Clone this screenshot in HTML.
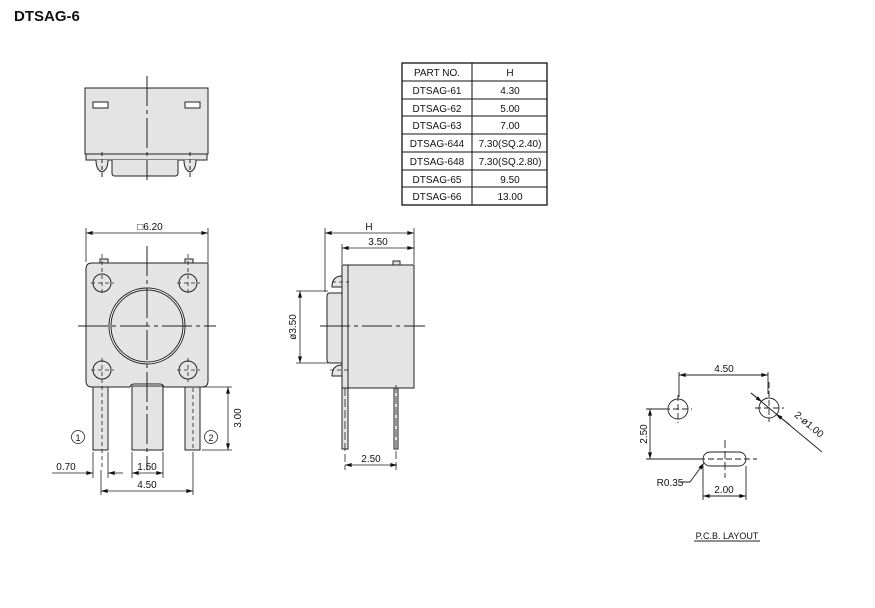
<!DOCTYPE html>
<html><head><meta charset="utf-8"><style>
html,body{margin:0;padding:0;background:#fff}
svg{display:block}
text{font-family:"Liberation Sans",sans-serif;fill:#111}
</style></head><body>
<svg width="875" height="608" viewBox="0 0 875 608" xmlns="http://www.w3.org/2000/svg">
<defs>
<marker id="a" viewBox="0 0 10 6" refX="10" refY="3" markerWidth="7" markerHeight="4" orient="auto-start-reverse" markerUnits="userSpaceOnUse"><path d="M0,0L10,3L0,6z" fill="#111"/></marker>
</defs>
<text x="14" y="21" font-size="15" font-weight="bold">DTSAG-6</text>

<g stroke="#222" stroke-width="1" fill="#e4e4e4">
<rect x="85" y="88" width="123" height="66"/>
<rect x="86" y="154" width="121" height="6"/>
<path d="M112,160 V173 Q112,176 115,176 H175 Q178,176 178,173 V160" />
<path d="M96,160 Q96,170 102,172 Q108,170 108,160"/>
<path d="M184,160 Q184,170 190,172 Q196,170 196,160"/>
<rect x="93" y="102" width="15" height="6" fill="#fff"/>
<rect x="185" y="102" width="15" height="6" fill="#fff"/>
</g>
<line x1="147" y1="76" x2="147" y2="180" stroke="#222" stroke-dasharray="30,4,4,4"/>
<line x1="102" y1="152" x2="102" y2="177" stroke="#222" stroke-dasharray="4,3"/>
<line x1="190" y1="152" x2="190" y2="177" stroke="#222" stroke-dasharray="4,3"/>

<g stroke="#111" fill="none">
<rect x="402" y="63" width="145" height="142" stroke-width="1.3"/>
<line x1="472" y1="63" x2="472" y2="205"/>
<line x1="402" y1="81" x2="547" y2="81"/><line x1="402" y1="99" x2="547" y2="99"/>
<line x1="402" y1="116" x2="547" y2="116"/><line x1="402" y1="134" x2="547" y2="134"/>
<line x1="402" y1="152" x2="547" y2="152"/><line x1="402" y1="170" x2="547" y2="170"/>
<line x1="402" y1="187" x2="547" y2="187"/>
</g>
<g font-size="10" text-anchor="middle">
<text x="437" y="76">PART  NO.</text><text x="510" y="76">H</text>
<text x="437" y="94">DTSAG-61</text><text x="510" y="94">4.30</text>
<text x="437" y="112">DTSAG-62</text><text x="510" y="112">5.00</text>
<text x="437" y="129">DTSAG-63</text><text x="510" y="129">7.00</text>
<text x="437" y="147">DTSAG-644</text><text x="510" y="147">7.30(SQ.2.40)</text>
<text x="437" y="165">DTSAG-648</text><text x="510" y="165">7.30(SQ.2.80)</text>
<text x="437" y="183">DTSAG-65</text><text x="510" y="183">9.50</text>
<text x="437" y="200">DTSAG-66</text><text x="510" y="200">13.00</text>
</g>

<g stroke="#222" fill="#e4e4e4">
<rect x="93" y="386" width="15" height="64"/>
<rect x="132" y="386" width="31" height="64"/>
<rect x="185" y="386" width="15" height="64"/>
<path d="M92,263 H208 V381 Q208,387 202,387 H164 Q163,384 160,384 H134 Q131,384 130,387 H92 Q86,387 86,381 V269 Q86,263 92,263Z"/>
<rect x="100" y="259" width="8" height="4"/><rect x="185" y="259" width="8" height="4"/>
<circle cx="147" cy="326" r="38" fill="#fff"/>
<circle cx="147" cy="326" r="36" fill="#e4e4e4"/>
<circle cx="102" cy="283" r="9"/><circle cx="188" cy="283" r="9"/>
<circle cx="102" cy="370" r="9"/><circle cx="188" cy="370" r="9"/>
</g>
<g stroke="#222" stroke-width="0.8" stroke-dasharray="4,3" fill="none">
<line x1="91" y1="283" x2="114" y2="283"/><line x1="102" y1="254" x2="102" y2="295"/>
<line x1="177" y1="283" x2="200" y2="283"/><line x1="188" y1="254" x2="188" y2="295"/>
<line x1="91" y1="370" x2="114" y2="370"/><line x1="102" y1="358" x2="102" y2="470"/>
<line x1="177" y1="370" x2="200" y2="370"/><line x1="188" y1="358" x2="188" y2="382"/>
<line x1="193" y1="388" x2="193" y2="450"/>
</g>
<line x1="147" y1="246" x2="147" y2="470" stroke="#222" stroke-dasharray="30,4,4,4"/>
<line x1="78" y1="326" x2="216" y2="326" stroke="#222" stroke-dasharray="30,4,4,4"/>
<g stroke="#222" stroke-width="0.8" fill="none">
<line x1="86" y1="228" x2="86" y2="262"/><line x1="208" y1="228" x2="208" y2="262"/>
<line x1="86" y1="233" x2="208" y2="233" marker-start="url(#a)" marker-end="url(#a)"/>
<line x1="202" y1="387" x2="232" y2="387"/><line x1="202" y1="450" x2="232" y2="450"/>
<line x1="228" y1="387" x2="228" y2="450" marker-start="url(#a)" marker-end="url(#a)"/>
<line x1="93" y1="452" x2="93" y2="478"/><line x1="108" y1="452" x2="108" y2="478"/>
<line x1="132" y1="452" x2="132" y2="478"/><line x1="163" y1="452" x2="163" y2="478"/>
<line x1="101" y1="470" x2="101" y2="495"/>
<line x1="193" y1="452" x2="193" y2="495"/>
<line x1="52" y1="473" x2="93" y2="473" marker-end="url(#a)"/>
<line x1="123" y1="473" x2="108" y2="473" marker-end="url(#a)"/>
<line x1="132" y1="473" x2="163" y2="473" marker-start="url(#a)" marker-end="url(#a)"/>
<line x1="101" y1="491" x2="193" y2="491" marker-start="url(#a)" marker-end="url(#a)"/>
<circle cx="78" cy="437" r="6.5"/><circle cx="211" cy="437" r="6.5"/>
</g>
<g font-size="10" text-anchor="middle">
<text x="150" y="230">□6.20</text>
<text x="78" y="441" font-size="9">1</text><text x="211" y="441" font-size="9">2</text>
<text x="66" y="470">0.70</text><text x="147" y="470">1.50</text><text x="147" y="488">4.50</text>
<text transform="translate(241,418) rotate(-90)">3.00</text>
</g>

<g stroke="#222" fill="#e4e4e4">
<rect x="342" y="388" width="6" height="61"/>
<rect x="394" y="388" width="4" height="61"/>
<path d="M342,293 H330 Q327,293 327,296 V360 Q327,363 330,363 H342Z"/>
<path d="M342,276 Q332,276 332,287 H342Z"/><path d="M342,365 Q332,365 332,376 H342Z"/>
<rect x="342" y="265" width="6" height="123"/>
<rect x="348" y="265" width="66" height="123"/>
<rect x="393" y="261" width="7" height="4"/>
</g>
<line x1="320" y1="326" x2="425" y2="326" stroke="#222" stroke-dasharray="30,4,4,4"/>
<g stroke="#222" stroke-width="0.8" fill="none">
<line x1="332" y1="282" x2="349" y2="282" stroke-dasharray="4,3"/>
<line x1="330" y1="370" x2="349" y2="370" stroke-dasharray="4,3"/>
<line x1="345" y1="388" x2="345" y2="470" stroke-dasharray="8,3"/>
<line x1="396" y1="385" x2="396" y2="470" stroke-dasharray="8,3"/>
<line x1="325" y1="228" x2="325" y2="292"/><line x1="414" y1="228" x2="414" y2="264"/>
<line x1="342" y1="244" x2="342" y2="264"/>
<line x1="325" y1="233" x2="414" y2="233" marker-start="url(#a)" marker-end="url(#a)"/>
<line x1="342" y1="248" x2="414" y2="248" marker-start="url(#a)" marker-end="url(#a)"/>
<line x1="296" y1="291" x2="328" y2="291"/><line x1="296" y1="363" x2="328" y2="363"/>
<line x1="300" y1="291" x2="300" y2="363" marker-start="url(#a)" marker-end="url(#a)"/>
<line x1="345" y1="465" x2="397" y2="465" marker-start="url(#a)" marker-end="url(#a)"/>
</g>
<g font-size="10" text-anchor="middle">
<text x="369" y="230">H</text><text x="378" y="245">3.50</text>
<text transform="translate(296,327) rotate(-90)">ø3.50</text>
<text x="371" y="462">2.50</text>
</g>

<g stroke="#222" stroke-width="0.9" fill="none">
<circle cx="678" cy="409" r="10"/><circle cx="769" cy="408" r="10"/>
<rect x="703" y="452" width="43" height="14" rx="7"/>
<line x1="664" y1="409" x2="692" y2="409" stroke-dasharray="6,3"/><line x1="678" y1="395" x2="678" y2="423" stroke-dasharray="6,3"/>
<line x1="755" y1="408" x2="784" y2="408" stroke-dasharray="6,3"/><line x1="769" y1="382" x2="769" y2="422" stroke-dasharray="6,3"/>
<line x1="690" y1="459" x2="757" y2="459" stroke-dasharray="6,3"/>
<line x1="725" y1="440" x2="725" y2="478" stroke-dasharray="8,3"/>
<line x1="679" y1="372" x2="679" y2="397"/><line x1="768" y1="372" x2="768" y2="394"/>
<line x1="679" y1="375" x2="768" y2="375" marker-start="url(#a)" marker-end="url(#a)"/>
<line x1="646" y1="409" x2="666" y2="409"/><line x1="646" y1="459" x2="703" y2="459"/>
<line x1="650" y1="409" x2="650" y2="459" marker-start="url(#a)" marker-end="url(#a)"/>
<line x1="703" y1="466" x2="703" y2="500"/><line x1="746" y1="466" x2="746" y2="500"/>
<line x1="703" y1="496" x2="746" y2="496" marker-start="url(#a)" marker-end="url(#a)"/>
<polyline points="680,482 690,482 704,463" marker-end="url(#a)"/>
<line x1="751" y1="393" x2="822" y2="452"/>
<line x1="751" y1="393" x2="762" y2="402" marker-end="url(#a)"/>
<line x1="790" y1="425" x2="776" y2="414" marker-end="url(#a)"/>
<line x1="694" y1="541" x2="760" y2="541"/>
</g>
<g font-size="10" text-anchor="middle">
<text x="724" y="372">4.50</text>
<text transform="translate(647,434) rotate(-90)">2.50</text>
<text x="724" y="493">2.00</text>
<text x="670" y="486">R0.35</text>
<text transform="translate(807,427) rotate(40)" text-anchor="middle">2-ø1.00</text>
<text x="727" y="539" font-size="9">P.C.B.  LAYOUT</text>
</g>
</svg>
</body></html>
